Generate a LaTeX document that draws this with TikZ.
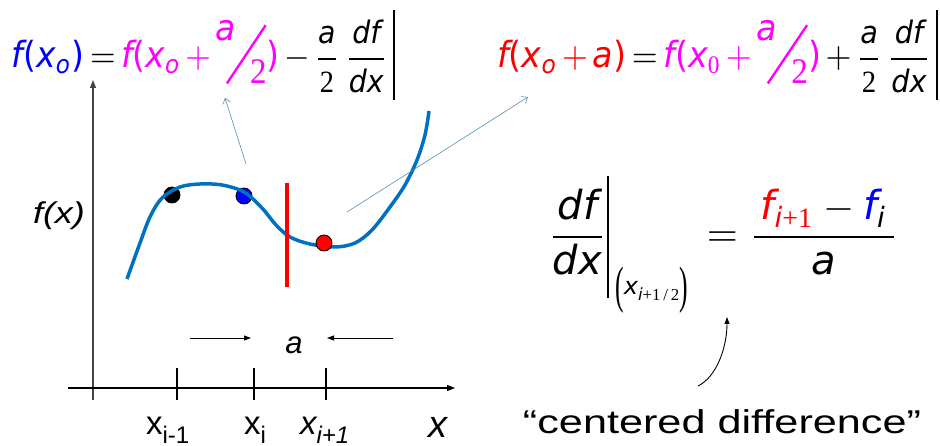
\documentclass[tikz,border=0pt]{standalone}
\usepackage{fontspec}
\usepackage{amsmath}
\usepackage{graphicx}
\setmainfont{Liberation Sans}
\newfontfamily\eqf{DejaVu Sans}
\newfontfamily\serf{Liberation Serif}
\usetikzlibrary{arrows.meta}
\definecolor{curveblue}{RGB}{0,112,192}
\definecolor{pointer}{RGB}{84,141,176}
\definecolor{axisgray}{RGB}{70,70,70}
\definecolor{mag}{RGB}{255,0,255}
\definecolor{pblue}{RGB}{0,0,255}
\definecolor{pred}{RGB}{255,0,0}
\newcommand\V[1]{\text{\eqf\itshape #1}}
\newcommand\N[1]{\text{\serf #1}}
\newcommand\Pn[1]{\text{\eqf #1}}
\newcommand\fV[1]{\text{\fontsize{8.6}{9}\selectfont\eqf\itshape #1}}
\newcommand\fN[1]{\text{\fontsize{8.6}{9}\selectfont\serf #1}}
\newcommand\sfr[2]{\text{\raisebox{0.75em}{\eqf\itshape #1}\hspace{-0.3em}\raisebox{-0.45em}{\rotatebox{54}{\rule{2em}{0.07em}}}\hspace{-0.5em}\raisebox{-0.42em}{\serf #2}}}
\newcommand\evbar{\,\rule[-9pt]{0.55pt}{25pt}}
\newcommand\subpart{\raisebox{-13.8pt}{\serf\fontsize{8}{8}\selectfont\scalebox{0.8}[1.6]{(}}\raisebox{-12pt}{\fontsize{6}{6}\selectfont\eqf\itshape x}\raisebox{-13.3pt}{\fontsize{4.2}{5}\selectfont{\eqf\itshape i}{\serf +1\,/\,2}}\raisebox{-13.8pt}{\serf\fontsize{8}{8}\selectfont\scalebox{0.8}[1.6]{)}}}
\begin{document}
\begin{tikzpicture}[x=1pt,y=-1pt,
  lbl/.style={inner sep=0pt, outer sep=0pt},
  eqn/.style={inner sep=0pt, outer sep=0pt, anchor=base west},
  axisline/.style={draw=axisgray, line width=1.3pt, -{Triangle[length=8pt,width=6pt]}},
  tickmark/.style={draw=black, line width=1.3pt},
  ptr/.style={draw=pointer, line width=0.6pt, -{Straight Barb[length=5pt,width=8pt]}},
  gaparrow/.style={draw=black, line width=0.9pt, -{Triangle[length=7pt,width=5pt]}},
  curvearrow/.style={draw=black, line width=0.9pt, -{Triangle[length=7pt,width=5pt]}},
  ptdot/.style={circle, draw=black, line width=0.8pt, minimum size=16pt, inner sep=0pt},
  redbar/.style={draw=pred, line width=4pt},
  fcurve/.style={draw=curveblue, line width=3.5pt}
]
\useasboundingbox (0,0) rectangle (940,446);

% equations
\node[eqn] (eqL) at (12,68) {\resizebox{383pt}{57.6pt}{$\thickmuskip=3mu\medmuskip=2.5mu\color{pblue}\V{f}\Pn{(}\V{x}_{\V{o}}\Pn{)}\color{black}=\color{mag}\V{f}\Pn{(}\V{x}_{\V{o}}+\sfr{a}{2}\Pn{)}\color{black}-\dfrac{\fV{a}}{\fN{2}}\,\dfrac{\fV{df}}{\fV{dx}}\evbar$}};
\node[eqn] (eqR) at (497,68) {\resizebox{441pt}{57.6pt}{$\thickmuskip=3mu\medmuskip=2.5mu\color{pred}\V{f}\Pn{(}\V{x}_{\V{o}}+\V{a}\Pn{)}\color{black}=\color{mag}\V{f}\Pn{(}\V{x}_{\N{0}}+\sfr{a}{2}\Pn{)}\color{black}+\dfrac{\fV{a}}{\fN{2}}\,\dfrac{\fV{df}}{\fV{dx}}\evbar$}};
\node[eqn] (eqM) at (548,247) {\scalebox{4}{$\dfrac{\V{df}}{\V{dx}}\rule[-12.75pt]{0.5pt}{30.5pt}\,\subpart\hspace{2pt}=\dfrac{\,{\color{pred}\V{f}_{\V{i}\N{+1}}}-{\color{pblue}\V{f}}_{\V{i}}\,}{\V{a}}$}};

% axes
\coordinate (yb) at (93,400); \coordinate (yt) at (93,80);
\coordinate (xl) at (68,388); \coordinate (xr) at (455,388);
\draw[axisline] (yb) -- (yt);
\draw[axisline, draw=black] (xl) -- (xr);
\coordinate (t1a) at (177,368); \coordinate (t1b) at (177,400);
\coordinate (t2a) at (254,368); \coordinate (t2b) at (254,400);
\coordinate (t3a) at (326,368); \coordinate (t3b) at (326,400);
\draw[tickmark] (t1a) -- (t1b);
\draw[tickmark] (t2a) -- (t2b);
\draw[tickmark] (t3a) -- (t3b);

% axis labels
\node[lbl, anchor=base west] (lx1) at (146,434) {\fontsize{33}{36}\selectfont x\raisebox{-0.3em}{\fontsize{24}{24}\selectfont i-1}};
\node[lbl, anchor=base west] (lx2) at (244,434) {\fontsize{33}{36}\selectfont x\raisebox{-0.3em}{\fontsize{24}{24}\selectfont i}};
\node[lbl, anchor=base west] (lx3) at (300,434) {\fontsize{33}{36}\selectfont\itshape x\raisebox{-0.3em}{\fontsize{24}{24}\selectfont i+1}};
\node[lbl, anchor=base west] (lxx) at (428,437) {\fontsize{38}{40}\selectfont\itshape x};
\node[lbl, anchor=base west] (lfx) at (33,224) {\scalebox{1.2}[1]{\fontsize{30}{32}\selectfont\itshape f(x)}};

% spacing a
\node[lbl, anchor=base] (la) at (294,354) {\fontsize{31}{33}\selectfont\itshape a};
\coordinate (a1s) at (190,338); \coordinate (a1e) at (251,338);
\coordinate (a2s) at (393,338); \coordinate (a2e) at (327,338);
\draw[gaparrow] (a1s) -- (a1e);
\draw[gaparrow] (a2s) -- (a2e);

% curve
\node[ptdot, fill=black] (pk) at (172,195) {};
\node[ptdot, fill=pblue] (pb) at (244,196) {};
\draw[fcurve] plot[smooth, tension=0.55] coordinates {(127,279) (140,243) (150,217) (162,198) (180,187) (200,184) (222,185) (244,192) (262,208) (276,225) (290,237) (310,244) (335,247) (355,243) (372,230) (390,207) (405,185) (417,160) (425,135) (429,111)};
\coordinate (rt) at (287,183); \coordinate (rb) at (287,287);
\draw[redbar] (rt) -- (rb);
\node[ptdot, fill=pred] (pr) at (324,243) {};

% pointers
\coordinate (p1s) at (246,164); \coordinate (p1e) at (225,98);
\coordinate (p2s) at (347,212); \coordinate (p2e) at (528,97);
\draw[ptr] (p1s) -- (p1e);
\draw[ptr] (p2s) -- (p2e);

% centered difference
\node[lbl, anchor=base] (cd) at (722,433) {\scalebox{1.31}[1]{\fontsize{33}{36}\selectfont “centered difference”}};
\coordinate (cs) at (698,386); \coordinate (ce) at (727,317);
\draw[curvearrow] (cs) .. controls (718,376) and (727,345) .. (ce);
\end{tikzpicture}
\end{document}
